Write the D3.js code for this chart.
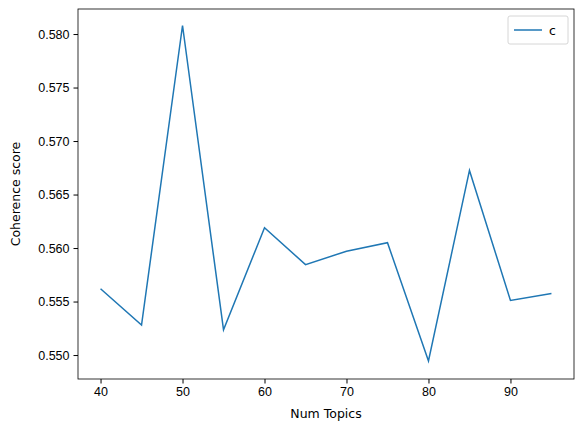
<!DOCTYPE html>
<html><head><meta charset="utf-8">
<script src="https://cdn.jsdelivr.net/npm/d3@7.9.0/dist/d3.min.js"></script>
<style>body{margin:0;background:#fff}svg{font-family:"DejaVu Sans",sans-serif}</style>
</head><body><svg width="584" height="432"></svg>
<script>
const numTopics = [40, 45, 50, 55, 60, 65, 70, 75, 80, 85, 90, 95];
const coherence = [0.55620, 0.55280, 0.58080, 0.55235, 0.56190, 0.55845, 0.55970, 0.56050, 0.54945, 0.56725, 0.55510, 0.55575];
const xTicks = [40, 50, 60, 70, 80, 90];
const yTicks = [0.550, 0.555, 0.560, 0.565, 0.570, 0.575, 0.580];

const svg = d3.select('svg');
const m = {left: 78, right: 574, top: 9, bottom: 379};
const fs = 12.5;
const x = d3.scaleLinear().domain([37.25, 97.75]).range([m.left, m.right]);
const y = d3.scaleLinear().domain([0.54776, 0.58234]).range([m.bottom, m.top]);

svg.append('g').attr('transform', `translate(0,${m.bottom})`)
  .call(d3.axisBottom(x).tickValues(xTicks).tickSizeOuter(0).tickSize(4.5).tickPadding(4))
  .call(g => g.selectAll('text').attr('font-size', fs).attr('fill', '#000'));
svg.append('g').attr('transform', `translate(${m.left},0)`)
  .call(d3.axisLeft(y).tickValues(yTicks).tickFormat(d3.format('.3f')).tickSizeOuter(0).tickSize(4.5).tickPadding(4))
  .call(g => g.selectAll('text').attr('font-size', fs).attr('fill', '#000'));
svg.selectAll('.domain').remove();
svg.append('rect').attr('x', m.left).attr('y', m.top).attr('width', m.right - m.left)
  .attr('height', m.bottom - m.top).attr('fill', 'none').attr('stroke', '#000').attr('stroke-width', 0.8);

svg.append('path').datum(numTopics.map((t, i) => [t, coherence[i]]))
  .attr('d', d3.line().x(d => x(d[0])).y(d => y(d[1])))
  .attr('fill', 'none').attr('stroke', '#1f77b4').attr('stroke-width', 1.5);

svg.append('text').attr('x', (m.left + m.right) / 2).attr('y', 418).attr('text-anchor', 'middle')
  .attr('font-size', fs).text('Num Topics');
svg.append('text').attr('transform', `translate(20,${(m.top + m.bottom) / 2}) rotate(-90)`)
  .attr('text-anchor', 'middle').attr('font-size', fs).text('Coherence score');

const lg = svg.append('g').attr('transform', 'translate(508,16)');
lg.append('rect').attr('width', 60).attr('height', 28).attr('rx', 2).attr('fill', '#fff')
  .attr('stroke', '#ccc').attr('stroke-width', 0.8);
lg.append('line').attr('x1', 6).attr('x2', 34).attr('y1', 14).attr('y2', 14)
  .attr('stroke', '#1f77b4').attr('stroke-width', 1.5);
lg.append('text').attr('x', 41).attr('y', 18.5).attr('font-size', fs).text('c');
</script></body></html>
